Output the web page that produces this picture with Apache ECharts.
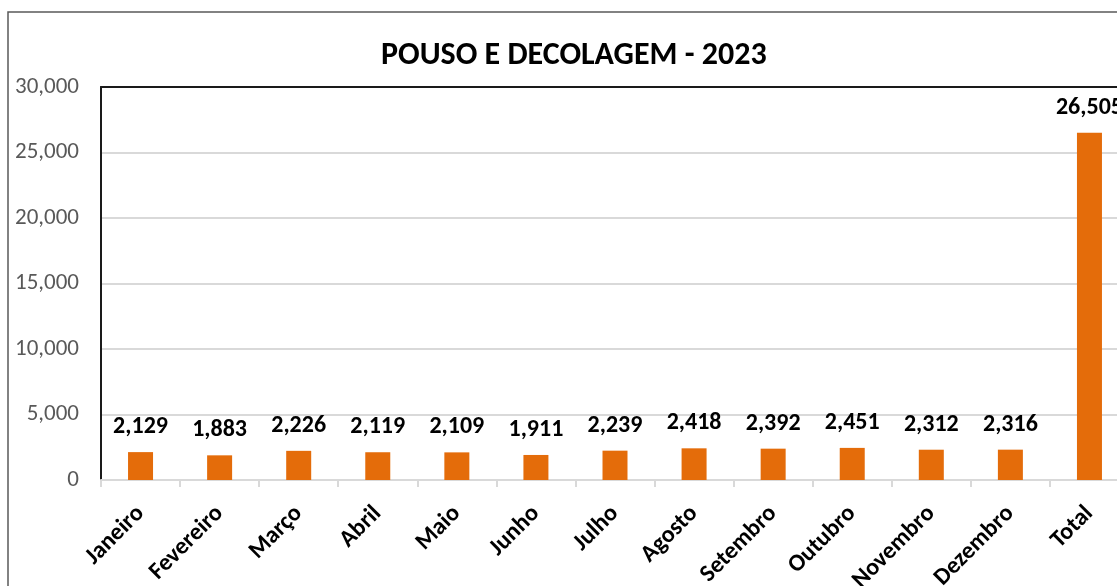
<!DOCTYPE html>
<html>
<head>
<meta charset="utf-8">
<script src="https://cdn.jsdelivr.net/npm/echarts@6/dist/echarts.min.js"></script>
<style>
  html, body { margin: 0; padding: 0; background: #fff; }
  #chart { width: 1117px; height: 586px; }
</style>
</head>
<body>
<div id="chart"></div>
<script>
// Pouso e decolagem por mês, 2023
const meses = ['Janeiro', 'Fevereiro', 'Março', 'Abril', 'Maio', 'Junho', 'Julho',
  'Agosto', 'Setembro', 'Outubro', 'Novembro', 'Dezembro', 'Total']
const movimentos = [2129, 1883, 2226, 2119, 2109, 1911, 2239, 2418, 2392, 2451, 2312, 2316, 26505]
const titulo = 'POUSO E DECOLAGEM - 2023'

const FONT = 'Calibri, Carlito, Lato, sans-serif'
const ORANGE = '#E46C0A'
const GRID = '#d9d9d9'

const chart = echarts.init(document.getElementById('chart'), null, { renderer: 'canvas' })

chart.setOption({
  animation: false,
  textStyle: { fontFamily: FONT },
  title: {
    text: titulo,
    left: 376,
    top: 35,
    textStyle: { fontFamily: FONT, fontWeight: 'bold', fontSize: 32, color: '#000' },
  },
  graphic: [{
    type: 'rect',
    silent: true,
    shape: { x: 8, y: 12, width: 1300, height: 800 },
    style: { fill: 'none', stroke: '#595959', lineWidth: 1.5 },
  }],
  // plot runs past the right edge of the window, as in the original
  grid: {
    left: 101, width: 1028, top: 87, bottom: 106,
    containLabel: false, outerBoundsMode: 'none',
  },
  xAxis: [{
    type: 'category',
    data: meses,
    position: 'bottom',
    axisLine: { lineStyle: { color: GRID, width: 2 } },
    axisTick: { show: true, length: 7, lineStyle: { color: GRID, width: 2 } },
    axisLabel: {
      rotate: 45, interval: 0, margin: 30,
      color: '#000', fontWeight: 'bold', fontSize: 24, fontFamily: FONT,
    },
  }, {
    type: 'category',
    data: meses,
    position: 'top',
    axisLine: { lineStyle: { color: '#1a1a1a', width: 2 } },
    axisTick: { show: false },
    axisLabel: { show: false },
  }],
  yAxis: {
    type: 'value',
    min: 0, max: 30000, interval: 5000,
    axisLine: { show: true, lineStyle: { color: '#1a1a1a', width: 2 } },
    axisTick: { show: false },
    splitLine: { lineStyle: { color: GRID, width: 2 } },
    axisLabel: {
      color: '#595959', fontSize: 23, fontFamily: FONT, margin: 22,
      formatter: v => v.toLocaleString('en-US'),
    },
  },
  series: [{
    type: 'bar',
    data: movimentos,
    barWidth: 25,
    itemStyle: { color: ORANGE },
    label: {
      show: true, position: 'top', distance: 13,
      color: '#000', fontWeight: 'bold', fontSize: 24, fontFamily: FONT,
      formatter: p => p.value.toLocaleString('en-US'),
    },
  }],
})
</script>
</body>
</html>
